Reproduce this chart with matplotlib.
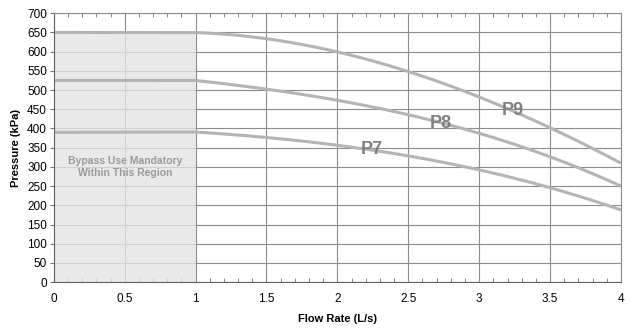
import numpy as np
import matplotlib.pyplot as plt
from matplotlib.patches import Rectangle
from matplotlib.ticker import MultipleLocator

plt.rcParams['font.family'] = ['Liberation Sans', 'DejaVu Sans']

# pump curves read at 0.5 L/s steps
flow = [0, 0.5, 1.0, 1.5, 2.0, 2.5, 3.0, 3.5, 4.0]
p9 = [650, 650, 650, 633, 599, 549, 482, 401, 310]
p8 = [525, 525, 525, 502, 474, 435, 388, 326, 250]
p7 = [390, 390, 390, 378, 357, 326, 292, 248, 187]
labels = ['P7', 'P8', 'P9']
label_pos = [(2.24, 344), (2.73, 414), (3.24, 448)]

fig = plt.figure(figsize=(6.33, 3.3), dpi=100)
ax = fig.add_axes([0.085, 0.145, 0.896, 0.815])

# bypass region, drawn over the grid so the lines show through faintly
ax.add_patch(Rectangle((0, 0), 1, 650, facecolor='#e4e4e4', edgecolor='none',
                       alpha=0.78, zorder=1.5))
ax.text(0.5, 300, 'Bypass Use Mandatory\nWithin This Region', ha='center', va='center',
        fontsize=7.5, fontweight='bold', color='#9a9a9a', linespacing=1.3, zorder=3)

def smooth(x, y):
    xs = np.linspace(1.0, 4.0, 200)
    c = np.polyfit(x[2:], y[2:], 3)
    ys = np.polyval(c, xs)
    return np.concatenate([[0], xs]), np.concatenate([[y[0]], ys])

for series in (p7, p8, p9):
    xs, ys = smooth(np.array(flow), np.array(series))
    ax.plot(xs, ys, color='#b4b4b4', lw=2.2, zorder=2, solid_capstyle='butt')

for lab, (x, y) in zip(labels, label_pos):
    ax.text(x, y, lab, ha='center', va='center', fontsize=13, fontweight='bold',
            color='#808080', zorder=3)

ax.set_xlim(0, 4)
ax.set_ylim(0, 700)
ax.xaxis.set_minor_locator(MultipleLocator(0.1))
ax.yaxis.set_major_locator(MultipleLocator(50))
ax.set_xticks(np.arange(0, 4.01, 0.5))
ax.set_xticklabels(['0', '0.5', '1', '1.5', '2', '2.5', '3', '3.5', '4'])
ax.grid(True, which='major', color='#8c8c8c', lw=0.8, zorder=1)
ax.set_axisbelow(True)
ax.tick_params(axis='x', which='both', direction='in', top=True, labelsize=8.5,
               color='#707070', pad=8)
ax.tick_params(axis='x', which='major', length=0)
ax.tick_params(axis='x', which='minor', length=3)
ax.tick_params(axis='y', which='major', direction='out', length=3, labelsize=8.5,
               color='#707070', pad=2)
for s in ('top', 'right'):
    ax.spines[s].set_color('#8c8c8c')
    ax.spines[s].set_linewidth(0.8)
for s in ('left', 'bottom'):
    ax.spines[s].set_color('#606060')
    ax.spines[s].set_linewidth(0.8)

ax.set_xlabel('Flow Rate (L/s)', fontsize=8, fontweight='bold', labelpad=6)
ax.set_ylabel('Pressure (kPa)', fontsize=8, fontweight='bold', labelpad=4)

fig.savefig('out.png', dpi=100)
